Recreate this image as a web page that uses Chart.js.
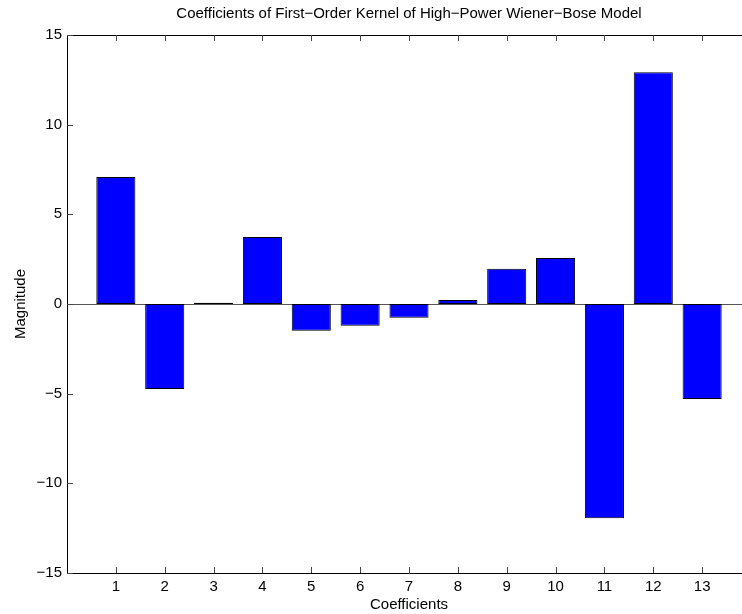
<!DOCTYPE html>
<html>
<head>
<meta charset="utf-8">
<script src="https://cdn.jsdelivr.net/npm/chart.js@4.4.1/dist/chart.umd.min.js"></script>
<style>
    html, body { margin: 0; padding: 0; background: #fff; overflow: hidden; }
    #wrap { position: relative; width: 760px; height: 614px; }
</style>
</head>
<body>
<div id="wrap"><canvas id="chart"></canvas></div>
<script>
// Bar chart of kernel coefficients (MATLAB style)

const chartTitle = 'Coefficients of First\u2212Order Kernel of High\u2212Power Wiener\u2212Bose Model';
const coefficients = [1, 2, 3, 4, 5, 6, 7, 8, 9, 10, 11, 12, 13];
const magnitudes = [7.08, -4.74, 0.07, 3.74, -1.49, -1.21, -0.76, 0.23, 1.96, 2.57, -11.95, 12.92, -5.3];
const yTicks = [-15, -10, -5, 0, 5, 10, 15];

const fontFamily = '"Liberation Sans", Arial, Helvetica, sans-serif';
const fontSize = 15;
const axisColor = '#000';

// Inward tick marks, top box line, zero baseline and title
const matlabAxes = {
    id: 'matlabAxes',
    beforeDatasetsDraw(chart) {
        const { ctx, chartArea, scales } = chart;
        const y0 = scales.y.getPixelForValue(0);
        ctx.save();
        ctx.strokeStyle = '#555';
        ctx.lineWidth = 1;
        ctx.beginPath();
        ctx.moveTo(chartArea.left, Math.round(y0) + 0.5);
        ctx.lineTo(chartArea.right, Math.round(y0) + 0.5);
        ctx.stroke();
        ctx.restore();
    },
    afterDraw(chart) {
        const { ctx, chartArea, scales } = chart;
        ctx.save();
        ctx.strokeStyle = axisColor;
        ctx.lineWidth = 1;
        // top box line
        ctx.beginPath();
        ctx.moveTo(chartArea.left, chartArea.top + 0.5);
        ctx.lineTo(chartArea.right, chartArea.top + 0.5);
        ctx.stroke();

        ctx.strokeStyle = '#444';
        coefficients.forEach(c => {
            const x = Math.round(scales.x.getPixelForValue(c)) + 0.5;
            ctx.beginPath();
            ctx.moveTo(x, chartArea.bottom);
            ctx.lineTo(x, chartArea.bottom - 6);
            ctx.moveTo(x, chartArea.top);
            ctx.lineTo(x, chartArea.top + 6);
            ctx.stroke();
        });
        yTicks.forEach(v => {
            const y = Math.round(scales.y.getPixelForValue(v)) + 0.5;
            ctx.beginPath();
            ctx.moveTo(chartArea.left, y);
            ctx.lineTo(chartArea.left + 6, y);
            ctx.stroke();
        });

        // title centred over the axes
        ctx.fillStyle = '#000';
        ctx.font = fontSize + 'px ' + fontFamily;
        ctx.textAlign = 'center';
        ctx.textBaseline = 'middle';
        ctx.fillText(chartTitle, (chartArea.left + chartArea.right) / 2, 14);
        ctx.restore();
    }
};

new Chart(document.getElementById('chart'), {
    type: 'bar',
    data: {
        datasets: [{
            data: coefficients.map((c, i) => ({ x: c, y: magnitudes[i] })),
            backgroundColor: '#0000ff',
            borderColor: '#000',
            borderWidth: 1,
            borderSkipped: false,
            barPercentage: 0.8,
            categoryPercentage: 1.0
        }]
    },
    options: {
        responsive: true,
        maintainAspectRatio: false,
        animation: false,
        layout: { padding: { top: 35, right: 9, left: 0, bottom: 0 } },
        plugins: {
            legend: { display: false },
            title: { display: false },
            tooltip: { enabled: false }
        },
        scales: {
            x: {
                type: 'linear',
                min: 0,
                max: 14,
                offset: false,
                afterBuildTicks(scale) {
                    scale.ticks = coefficients.map(v => ({ value: v }));
                },
                ticks: {
                    color: '#000',
                    font: { family: fontFamily, size: fontSize },
                    padding: 5,
                    maxRotation: 0,
                    autoSkip: false
                },
                grid: { display: false, drawTicks: false },
                border: { display: true, color: axisColor, width: 1 },
                title: {
                    display: true,
                    text: 'Coefficients',
                    color: '#000',
                    font: { family: fontFamily, size: fontSize },
                    padding: { top: 0, bottom: 0 }
                },
                afterFit(scale) { scale.height = 41; }
            },
            y: {
                min: -15,
                max: 15,
                afterBuildTicks(scale) {
                    scale.ticks = yTicks.map(v => ({ value: v }));
                },
                ticks: {
                    color: '#000',
                    font: { family: fontFamily, size: fontSize },
                    padding: 5,
                    callback: v => String(v).replace('-', '\u2212')
                },
                grid: { display: false, drawTicks: false },
                border: { display: true, color: axisColor, width: 1 },
                title: {
                    display: true,
                    text: 'Magnitude',
                    color: '#000',
                    font: { family: fontFamily, size: fontSize },
                    padding: { top: 12, bottom: 0 }
                },
                afterFit(scale) { scale.width = 67; }
            }
        }
    },
    plugins: [matlabAxes]
});
</script>
</body>
</html>
